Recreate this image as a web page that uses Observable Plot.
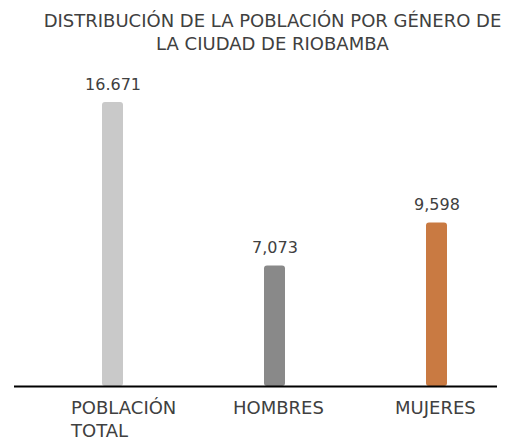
<!DOCTYPE html>
<html>
<head>
<meta charset="utf-8">
<script src="https://cdn.jsdelivr.net/npm/d3@7"></script>
<script src="https://cdn.jsdelivr.net/npm/@observablehq/plot@0.6"></script>
<style>
  body { margin: 0; background: #fff; }
  #wrap { width: 511px; }
  #title { height: 60px; box-sizing: border-box; padding-top: 9px; padding-left: 34px; text-align: center;
    font-family: "DejaVu Sans", sans-serif; font-size: 18px; line-height: 23px; color: #404040; white-space: nowrap; }
</style>
</head>
<body>
<div id="wrap">
  <div id="title">DISTRIBUCIÓN DE LA POBLACIÓN POR GÉNERO DE<br>LA CIUDAD DE RIOBAMBA</div>
  <div id="chart"></div>
</div>
<script>
const categories = ["POBLACIÓN\nTOTAL", "HOMBRES", "MUJERES"];
const values = [16671, 7073, 9598];
const valueLabels = ["16.671", "7,073", "9,598"];
const colors = ["#c9c9c9", "#898989", "#c97a42"];

const data = categories.map((c, i) => ({cat: c, value: values[i], label: valueLabels[i], color: colors[i]}));

const chart = Plot.plot({
  width: 511,
  height: 381,
  marginLeft: 14,
  marginRight: 14,
  marginTop: 42,
  marginBottom: 55,
  style: {fontFamily: "DejaVu Sans, sans-serif", color: "#404040", background: "#fff"},
  x: {domain: categories, paddingInner: 0.87, paddingOuter: 0.4256, align: 0.641, axis: null},
  y: {domain: [0, 16671], axis: null},
  marks: [
    Plot.barY(data, {x: "cat", y: "value", fill: "color", rx: 3}),
    Plot.text(data, {x: "cat", y: "value", text: "label", lineAnchor: "bottom", dy: -13, fontSize: 16, fill: "#404040"}),
    Plot.text(data, {x: "cat", text: "cat", frameAnchor: "bottom", lineAnchor: "top", textAnchor: "start", dx: -42, dy: 11, fontSize: 18, lineHeight: 1.28, fill: "#404040"}),
    Plot.ruleY([0], {stroke: "#000", strokeWidth: 2})
  ]
});
document.getElementById("chart").appendChild(chart);
</script>
</body>
</html>
